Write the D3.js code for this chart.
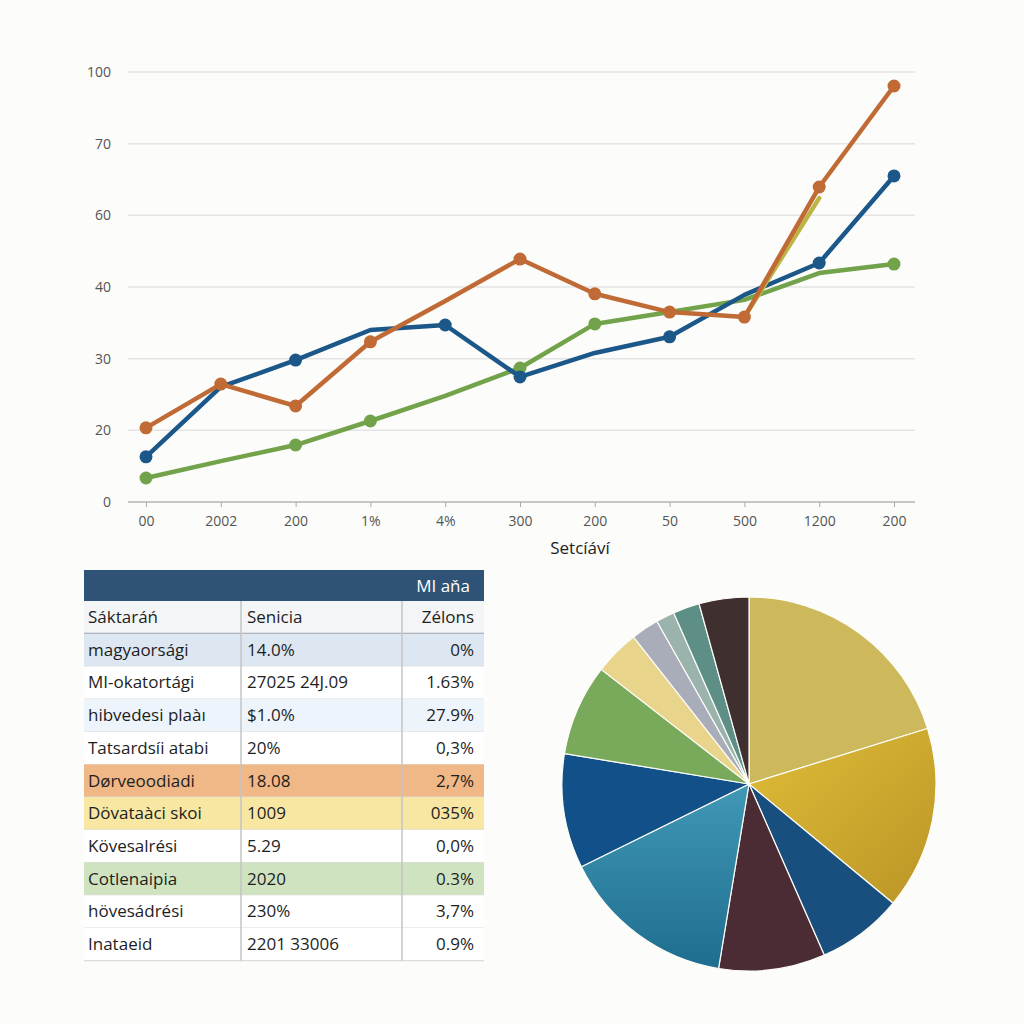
<!DOCTYPE html>
<html>
<head>
<meta charset="utf-8">
<script src="https://cdn.jsdelivr.net/npm/d3@7"></script>
<style>
  body { margin: 0; background: #fcfcfa; }
  svg { display: block; font-family: "Open Sans", "Liberation Sans", sans-serif; }
</style>
</head>
<body>
<script>
// line chart data
var xLabels = ["00", "2002", "200", "1%", "4%", "300", "200", "50", "500", "1200", "200"];
var yTickLabels = ["0", "20", "30", "40", "60", "70", "100"];
var blueValues = [12.6, 32.1, 39.6, 48.0, 49.4, 34.9, 41.6, 46.1, 57.8, 66.7, 91.0];
var orangeValues = [20.7, 32.9, 26.8, 44.7, 56.1, 67.8, 58.1, 53.0, 51.6, 87.9, 116.1];
var greenValues = [6.7, 11.4, 15.9, 22.6, 29.6, 37.4, 49.7, 53.0, 56.4, 63.9, 66.4];
var yellowValues = [null, null, null, null, null, null, null, null, 51.6, 84.8, null];
var blueMarkers = [0, 2, 4, 5, 7, 9, 10];
var orangeMarkers = [0, 1, 2, 3, 5, 6, 7, 8, 9, 10];
var greenMarkers = [0, 2, 3, 5, 6, 10];
var xTitle = "Setcíáví";

// table data
var tableTitle = "MI aňa";
var tableHead = ["Sáktaráń", "Senicia", "Zélons"];
var rowNames = ["magyaorsági", "MI-okatortági", "hibvedesi plaàı", "Tatsardsíi atabi", "Dørveoodiadi",
    "Dövataàci skoi", "Kövesalrési", "Cotlenaipia", "hövesádrési", "Inataeid"];
var rowValues = ["14.0%", "27025 24J.09", "$1.0%", "20%", "18.08", "1009", "5.29", "2020", "230%", "2201 33006"];
var rowShares = ["0%", "1.63%", "27.9%", "0,3%", "2,7%", "035%", "0,0%", "0.3%", "3,7%", "0.9%"];

// pie data (percent)
var pieValues = [20.2, 15.8, 7.4, 9.2, 15.1, 9.9, 7.9, 3.9, 2.4, 1.6, 2.3, 4.3];

var width = 1024;
var height = 1024;

var svg = d3.select("body")
    .append("svg")
    .attr("width", width)
    .attr("height", height);

svg.append("rect")
    .attr("width", width)
    .attr("height", height)
    .attr("fill", "#fcfcfa");

// ---------- line chart ----------
var xScale = d3.scalePoint()
    .domain(d3.range(xLabels.length))
    .range([146, 894]);

var yScale = d3.scaleLinear()
    .domain([0, 120])
    .range([502, 72]);

var yTicks = d3.range(0, 121, 20);

// gridlines
svg.append("g")
    .selectAll("line")
    .data(yTicks.slice(1))
    .enter()
    .append("line")
    .attr("x1", 128)
    .attr("x2", 915)
    .attr("y1", function(d) { return yScale(d); })
    .attr("y2", function(d) { return yScale(d); })
    .attr("stroke", "#e4e4e4")
    .attr("stroke-width", 1.5);

// y axis labels
var y_axis = d3.axisLeft(yScale)
    .tickValues(yTicks)
    .tickSize(0)
    .tickPadding(0)
    .tickFormat(function(d, i) { return yTickLabels[i]; });

var yg = svg.append("g")
    .attr("transform", "translate(111,0)")
    .call(y_axis);
yg.select(".domain").remove();
yg.selectAll("text")
    .attr("font-size", 14)
    .attr("fill", "#555")
    .attr("font-family", "Open Sans, sans-serif");

// x axis
var x_axis = d3.axisBottom(xScale)
    .tickSize(5)
    .tickPadding(9)
    .tickFormat(function(d) { return xLabels[d]; });

var xg = svg.append("g")
    .attr("transform", "translate(0,502)")
    .call(x_axis);
xg.select(".domain").remove();
xg.selectAll("line").attr("stroke", "#aaa");
xg.selectAll("text")
    .attr("font-size", 14)
    .attr("fill", "#555")
    .attr("font-family", "Open Sans, sans-serif");

svg.append("line")
    .attr("x1", 128)
    .attr("x2", 915)
    .attr("y1", 502)
    .attr("y2", 502)
    .attr("stroke", "#b5b5b5")
    .attr("stroke-width", 1.5);

svg.append("text")
    .attr("x", 580)
    .attr("y", 554)
    .attr("text-anchor", "middle")
    .attr("font-size", 17)
    .attr("fill", "#222")
    .text(xTitle);

var line = d3.line()
    .defined(function(d) { return d != null; })
    .x(function(d, i) { return xScale(i); })
    .y(function(d) { return yScale(d); });

var series = [
    { values: greenValues, color: "#72a24a", markers: greenMarkers },
    { values: blueValues, color: "#1c5789", markers: blueMarkers },
    { values: yellowValues, color: "#bcb545", markers: [] },
    { values: orangeValues, color: "#c06a36", markers: orangeMarkers }
];

series.forEach(function(s) {
    svg.append("path")
        .datum(s.values)
        .attr("d", line)
        .attr("fill", "none")
        .attr("stroke", s.color)
        .attr("stroke-width", 4.5)
        .attr("stroke-linejoin", "round")
        .attr("stroke-linecap", "round");

    svg.append("g")
        .selectAll("circle")
        .data(s.markers)
        .enter()
        .append("circle")
        .attr("cx", function(i) { return xScale(i); })
        .attr("cy", function(i) { return yScale(s.values[i]); })
        .attr("r", 6.5)
        .attr("fill", s.color);
});

// ---------- table ----------
var tLeft = 84, tRight = 484, col2 = 241, col3 = 402;
var rowH = 32.7;
var headTop = 570, headH = 31;
var bodyTop = headTop + headH;

svg.append("rect")
    .attr("x", tLeft)
    .attr("y", headTop)
    .attr("width", tRight - tLeft)
    .attr("height", headH)
    .attr("fill", "#2f5377");

svg.append("text")
    .attr("x", 470)
    .attr("y", headTop + 22)
    .attr("text-anchor", "end")
    .attr("font-size", 17)
    .attr("fill", "#fff")
    .text(tableTitle);

var rowFills = ["#dde7f1", "#ffffff", "#edf4fb", "#ffffff", "#efb886", "#f7e7a3", "#ffffff", "#cfe3c0", "#ffffff", "#ffffff"];

var rows = [tableHead].concat(rowNames.map(function(n, i) {
    return [n, rowValues[i], rowShares[i]];
}));

var rowG = svg.append("g")
    .selectAll("g")
    .data(rows)
    .enter()
    .append("g")
    .attr("transform", function(d, i) { return "translate(0," + (bodyTop + i * rowH) + ")"; });

rowG.append("rect")
    .attr("x", tLeft)
    .attr("width", tRight - tLeft)
    .attr("height", rowH)
    .attr("fill", function(d, i) { return i == 0 ? "#f4f5f6" : rowFills[i - 1]; });

rowG.append("line")
    .attr("x1", tLeft)
    .attr("x2", tRight)
    .attr("y1", rowH)
    .attr("y2", rowH)
    .attr("stroke", function(d, i) { return i == 0 ? "#9aa3ad" : "#dcdcdc"; })
    .attr("stroke-width", function(d, i) { return i == 0 ? 2 : 1.2; });

rowG.append("text")
    .attr("x", 88)
    .attr("y", 22)
    .attr("font-size", 17)
    .attr("fill", "#1e1e1e")
    .text(function(d) { return d[0]; });

rowG.append("text")
    .attr("x", 247)
    .attr("y", 22)
    .attr("font-size", 17)
    .attr("fill", "#1e1e1e")
    .text(function(d) { return d[1]; });

rowG.append("text")
    .attr("x", 474)
    .attr("y", 22)
    .attr("text-anchor", "end")
    .attr("font-size", 17)
    .attr("fill", "#1e1e1e")
    .text(function(d) { return d[2]; });

// column separators
svg.append("g")
    .selectAll("line")
    .data([col2, col3])
    .enter()
    .append("line")
    .attr("x1", function(d) { return d; })
    .attr("x2", function(d) { return d; })
    .attr("y1", bodyTop)
    .attr("y2", bodyTop + rows.length * rowH)
    .attr("stroke", "#c4c4c4")
    .attr("stroke-width", 1.5);

// ---------- pie ----------
var pieColors = ["#cdb95c", "url(#goldGrad)", "#184f7e", "#4b2b34", "url(#tealGrad)", "#12508a",
    "#79a95a", "#e8d48a", "#a9adba", "#9ab3ad", "#5e8f86", "#3f2f2e"];

var defs = svg.append("defs");
var gold = defs.append("linearGradient")
    .attr("id", "goldGrad")
    .attr("x1", "0").attr("y1", "0").attr("x2", "1").attr("y2", "1");
gold.append("stop").attr("offset", "0%").attr("stop-color", "#dfbd38");
gold.append("stop").attr("offset", "100%").attr("stop-color", "#bb9526");
var teal = defs.append("linearGradient")
    .attr("id", "tealGrad")
    .attr("x1", "0").attr("y1", "0").attr("x2", "0").attr("y2", "1");
teal.append("stop").attr("offset", "0%").attr("stop-color", "#4198b6");
teal.append("stop").attr("offset", "100%").attr("stop-color", "#1f6d8f");

var pie = d3.pie()
    .sort(null)
    .value(function(d) { return d; });

var arc = d3.arc()
    .innerRadius(0)
    .outerRadius(187);

svg.append("g")
    .attr("transform", "translate(749,784)")
    .selectAll("path")
    .data(pie(pieValues))
    .enter()
    .append("path")
    .attr("d", arc)
    .attr("fill", function(d, i) { return pieColors[i]; })
    .attr("stroke", "#fdfdf8")
    .attr("stroke-width", 1.2);
</script>
</body>
</html>
